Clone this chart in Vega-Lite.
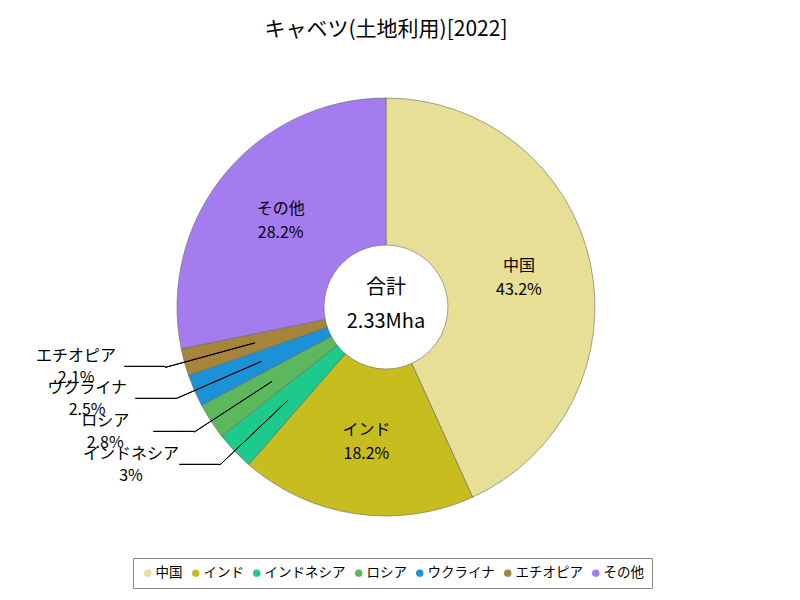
{
  "$schema": "https://vega.github.io/schema/vega-lite/v6.json",
  "width": 772,
  "height": 494,
  "autosize": {"type": "none"},
  "padding": {"left": 0, "top": 60, "right": 28, "bottom": 46},
  "background": "white",
  "title": {"text": "キャベツ(土地利用)[2022]", "fontSize": 21, "font": "Noto Sans CJK JP", "fontWeight": "normal", "color": "#000", "anchor": "middle", "offset": 20},
  "config": {"view": {"stroke": null}, "font": "Noto Sans CJK JP"},
  "data": {"values": [
    {"name": "中国", "value": 43.2, "pct": "43.2%", "order": 1},
    {"name": "インド", "value": 18.2, "pct": "18.2%", "order": 2},
    {"name": "インドネシア", "value": 3.0, "pct": "3%", "order": 3},
    {"name": "ロシア", "value": 2.8, "pct": "2.8%", "order": 4},
    {"name": "ウクライナ", "value": 2.5, "pct": "2.5%", "order": 5},
    {"name": "エチオピア", "value": 2.1, "pct": "2.1%", "order": 6},
    {"name": "その他", "value": 28.2, "pct": "28.2%", "order": 7}
  ]},
  "layer": [
    {
      "mark": {"type": "arc", "innerRadius": 62, "outerRadius": 209, "stroke": "#666", "strokeWidth": 0.6},
      "encoding": {
        "theta": {"field": "value", "type": "quantitative", "stack": true},
        "order": {"field": "order", "type": "quantitative"},
        "color": {
          "field": "name", "type": "nominal",
          "scale": {
            "domain": ["中国", "インド", "インドネシア", "ロシア", "ウクライナ", "エチオピア", "その他"],
            "range": ["#e6df95", "#c8bd1e", "#1ec98c", "#5cb85c", "#1b91d8", "#a6843b", "#a57cf0"]
          },
          "legend": {
            "title": null, "orient": "none", "legendX": 133, "legendY": 498,
            "direction": "horizontal", "columns": 7,
            "symbolType": "circle", "symbolSize": 55, "symbolStrokeWidth": 0,
            "labelFontSize": 13.5, "labelFont": "Noto Sans CJK JP", "labelColor": "#000",
            "strokeColor": "#888", "fillColor": "white", "padding": 8,
            "columnPadding": 6, "labelOffset": 1
          }
        }
      }
    },
    {
      "mark": {"type": "arc", "innerRadius": 136, "outerRadius": 229, "padAngle": 2, "fill": "transparent", "stroke": "#000", "strokeWidth": 1},
      "encoding": {
        "theta": {"field": "value", "type": "quantitative", "stack": true},
        "order": {"field": "order", "type": "quantitative"},
        "strokeOpacity": {"condition": {"test": "datum.value < 5", "value": 1}, "value": 0}
      }
    },
    {
      "mark": {"type": "text", "radius": 229, "align": "right", "baseline": "middle", "font": "DejaVu Sans Mono", "fontSize": 13.6, "color": "#000"},
      "encoding": {
        "theta": {"field": "value", "type": "quantitative", "stack": true},
        "order": {"field": "order", "type": "quantitative"},
        "text": {"condition": {"test": "datum.value < 5", "value": "─────"}, "value": ""}
      }
    },
    {
      "mark": {"type": "text", "radius": 136, "align": "center", "baseline": "middle", "fontSize": 16, "dy": -12, "color": "#000"},
      "encoding": {
        "theta": {"field": "value", "type": "quantitative", "stack": true},
        "order": {"field": "order", "type": "quantitative"},
        "text": {"condition": {"test": "datum.value >= 5", "field": "name", "type": "nominal"}, "value": ""}
      }
    },
    {
      "mark": {"type": "text", "radius": 136, "align": "center", "baseline": "middle", "fontSize": 16, "dy": 12, "color": "#000"},
      "encoding": {
        "theta": {"field": "value", "type": "quantitative", "stack": true},
        "order": {"field": "order", "type": "quantitative"},
        "text": {"condition": {"test": "datum.value >= 5", "field": "pct", "type": "nominal"}, "value": ""}
      }
    },
    {
      "mark": {"type": "text", "radius": 229, "align": "center", "baseline": "middle", "fontSize": 16, "dx": -89, "dy": -11, "color": "#000"},
      "encoding": {
        "theta": {"field": "value", "type": "quantitative", "stack": true},
        "order": {"field": "order", "type": "quantitative"},
        "text": {"condition": {"test": "datum.value < 5", "field": "name", "type": "nominal"}, "value": ""}
      }
    },
    {
      "mark": {"type": "text", "radius": 229, "align": "center", "baseline": "middle", "fontSize": 16, "dx": -89, "dy": 11, "color": "#000"},
      "encoding": {
        "theta": {"field": "value", "type": "quantitative", "stack": true},
        "order": {"field": "order", "type": "quantitative"},
        "text": {"condition": {"test": "datum.value < 5", "field": "pct", "type": "nominal"}, "value": ""}
      }
    },
    {
      "data": {"values": [{"label": "合計", "total": "2.33Mha"}]},
      "mark": {"type": "text", "align": "center", "baseline": "middle", "fontSize": 20, "dy": -19, "color": "#000"},
      "encoding": {"text": {"field": "label", "type": "nominal"}}
    },
    {
      "data": {"values": [{"label": "合計", "total": "2.33Mha"}]},
      "mark": {"type": "text", "align": "center", "baseline": "middle", "fontSize": 20, "dy": 15, "color": "#000"},
      "encoding": {"text": {"field": "total", "type": "nominal"}}
    }
  ]
}
